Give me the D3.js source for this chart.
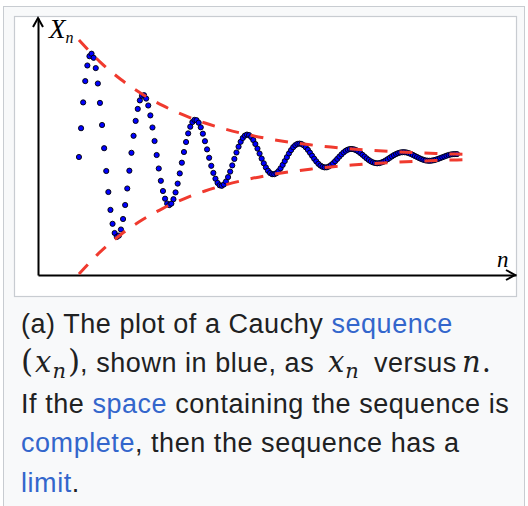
<!DOCTYPE html>
<html>
<head>
<meta charset="utf-8">
<script src="https://cdn.jsdelivr.net/npm/d3@7"></script>
<style>
  html, body { margin: 0; padding: 0; background: #ffffff; }
  svg { display: block; }
</style>
</head>
<body>
<div id="chart"></div>
<script>
// ---------- data ----------
// sequence values x_n (arbitrary units, limit = 0), one per index n
const seqValues = [
  0, 28.8, 54.6, 75.9, 91.5, 100.8, 103.3, 99.2, 88.9, 73.5,
  54.1, 32.0, 8.8, -14.0, -35.0, -52.9, -66.8, -76.0, -79.9, -78.6,
  -72.5, -62.0, -48.0, -31.5, -13.7, 4.2, 21.2, 36.1, 48.1, 56.6,
  61.2, 61.8, 58.4, 51.5, 41.6, 29.5, 16.0, 2.0, -11.5, -23.8,
  -34.0, -41.7, -46.5, -48.1, -46.6, -42.2, -35.4, -26.6, -16.4, -5.7,
  5.0, 15.0, 23.6, 30.3, 34.9, 37.1, 36.8, 34.3, 29.7, 23.3,
  15.8, 7.6, -0.8, -8.8, -15.9, -21.7, -25.9, -28.3, -28.8, -27.5,
  -24.5, -20.1, -14.6, -8.4, -1.9, 4.5, 10.3, 15.2, 19.0, 21.4,
  22.4, 21.9, 20.0, 17.0, 13.0, 8.4, 3.4, -1.6, -6.3, -10.4,
  -13.7, -16.0, -17.2, -17.2, -16.2, -14.2, -11.3, -7.9, -4.1, -0.2,
  3.6, 6.9, 9.8, 11.8, 13.1, 13.4, 13.0, 11.7, 9.7, 7.2,
  4.3, 1.3, -1.7, -4.4, -6.8, -8.6, -9.8, -10.4, -10.3, -9.5,
  -8.1, -6.3, -4.2, -1.9, 0.4, 2.6, 4.6, 6.2, 7.3, 8.0,
  8.0, 7.6, 6.8, 5.5, 3.9, 2.2, 0.4, -1.4, -3.0, -4.4,
  -5.4, -6.0, -6.3, -6.1, -5.5, -4.7, -3.5, -2.2, -0.8, 0.6,
  1.9, 3.0, 3.9, 4.5, 4.8, 4.8, 4.5, 3.9, 3.1, 2.1,
  1.0, 0.0, -1.1, -2.0, -2.8, -3.4, -3.7, -3.8, -3.6, -3.2,
  -2.6, -1.9, -1.1, -0.3, 0.5, 1.3, 2.0, 2.5, 2.8, 2.9,
  2.9
];
// envelope (red dashed bounds) sampled at these indices
const envN   = [0, 10, 20, 30, 40, 50, 60, 70, 80, 90, 100, 110, 120, 130, 140, 150, 160, 170, 180, 188];
const envAmp = [117.0, 95.2, 77.5, 63.1, 51.3, 41.8, 34.0, 27.7, 22.5, 18.3, 14.9, 12.2, 9.9, 8.1, 6.6, 5.3, 4.3, 3.5, 2.9, 2.4];
const limitValue = 0;
// axis labels
const yLabel = "X";
const yLabelSub = "n";
const xLabel = "n";
// axis extents (data units)
const nDomain = [-19.5, 208.1];
const vDomain = [-118, 139];

// ---------- drawing ----------
const W = 528, H = 506;
const svg = d3.select("#chart").append("svg").attr("width", W).attr("height", H);

// frames
svg.append("rect").attr("x", 3.5).attr("y", 6.5).attr("width", 521).attr("height", 520)
  .attr("fill", "#f8f9fa").attr("stroke", "#c8ccd1").attr("stroke-width", 1);
svg.append("rect").attr("x", 14.5).attr("y", 16.5).attr("width", 502).attr("height", 280)
  .attr("fill", "#ffffff").attr("stroke", "#c8ccd1").attr("stroke-width", 1.2);

const x = d3.scaleLinear().domain(nDomain).range([38, 516]);
const y = d3.scaleLinear().domain(vDomain).range([275, 18]);

const seq = seqValues.map((v, i) => ({ n: i, v: v }));

// axes (no ticks)
const gy = svg.append("g").attr("transform", `translate(${x(nDomain[0])},0)`)
  .call(d3.axisLeft(y).tickValues([]).tickSizeOuter(0));
const gx = svg.append("g").attr("transform", `translate(0,${y(vDomain[0])})`)
  .call(d3.axisBottom(x).tickValues([]).tickSizeOuter(0));
[gx, gy].forEach(g => g.select(".domain").attr("stroke", "#000").attr("stroke-width", 2));

// arrow heads
const x0 = x(nDomain[0]), yTop = y(vDomain[1]), yBot = y(vDomain[0]), xRight = x(nDomain[1]) - 1;
svg.append("path")
  .attr("d", `M${x0 - 5},${yTop + 9} L${x0},${yTop} L${x0 + 5},${yTop + 9}`)
  .attr("fill", "none").attr("stroke", "#000").attr("stroke-width", 2);
svg.append("path")
  .attr("d", `M${xRight - 9},${yBot - 5} L${xRight},${yBot} L${xRight - 9},${yBot + 5}`)
  .attr("fill", "none").attr("stroke", "#000").attr("stroke-width", 2);

// axis labels
const yl = svg.append("text").attr("x", 49).attr("y", 38)
  .attr("font-family", "'Liberation Serif', 'Times New Roman', serif")
  .attr("font-style", "italic").attr("font-size", 27).attr("fill", "#000");
yl.append("tspan").text(yLabel);
yl.append("tspan").attr("font-size", 16).attr("dy", 5).attr("dx", 0).text(yLabelSub);
svg.append("text").attr("x", 497).attr("y", 267)
  .attr("font-family", "'Liberation Serif', 'Times New Roman', serif")
  .attr("font-style", "italic").attr("font-size", 23).attr("fill", "#000").text(xLabel);

// sequence points
svg.append("g").selectAll("circle").data(seq).join("circle")
  .attr("cx", d => x(d.n)).attr("cy", d => y(d.v)).attr("r", 2.6)
  .attr("fill", "#0000ff").attr("stroke", "#000").attr("stroke-width", 0.9);

// envelopes
const envUpper = envN.map((n, i) => ({ n: n, v: limitValue + envAmp[i] }));
const envLower = envN.map((n, i) => ({ n: n, v: limitValue - envAmp[i] }));
const line = d3.line().x(d => x(d.n)).y(d => y(d.v)).curve(d3.curveMonotoneX);
[envUpper, envLower].forEach(e => {
  svg.append("path").attr("d", line(e))
    .attr("fill", "none").attr("stroke", "#f03a2e").attr("stroke-width", 3)
    .attr("stroke-dasharray", "13,12");
});

// caption
const sans = "'Liberation Sans', Arial, Helvetica, sans-serif";
const mathF = "'DejaVu Serif', serif";
const textCol = "#202122", linkCol = "#3366cc";
const fs = 27, ls = 0.55;
function cap(yPos) {
  return svg.append("text").attr("x", 21).attr("y", yPos)
    .attr("font-family", sans).attr("font-size", fs).attr("letter-spacing", ls).attr("fill", textCol);
}
function seg(parent, xPos, str, opts) {
  const s = parent.append("tspan").text(str);
  if (xPos !== null) s.attr("x", xPos);
  if (opts && opts.math) s.attr("font-family", mathF).attr("letter-spacing", 0);
  if (opts && opts.italic) s.attr("font-style", "italic");
  if (opts && opts.size) s.attr("font-size", opts.size);
  if (opts && opts.dy !== undefined) s.attr("dy", opts.dy);
  if (opts && opts.dx !== undefined) s.attr("dx", opts.dx);
  return s;
}
let t = cap(333);
t.append("tspan").text("(a) The plot of a Cauchy ");
t.append("tspan").attr("fill", linkCol).text("sequence");

t = cap(372);
seg(t, 21, "(", { math: true, size: 31 });
seg(t, null, "x", { math: true, italic: true, size: 29, dx: 2 });
seg(t, null, "n", { math: true, italic: true, size: 21, dy: 6, dx: 1 });
seg(t, null, ")", { math: true, size: 31, dy: -6, dx: 2 });
seg(t, null, ", shown in blue, as", { dx: 0 });
seg(t, 328, "x", { math: true, italic: true, size: 29 });
seg(t, null, "n", { math: true, italic: true, size: 21, dy: 6, dx: 1 });
seg(t, 374, "versus", { dy: -6 });
seg(t, 462, "n", { math: true, italic: true, size: 29 });
seg(t, null, ".", { math: true, size: 29, dx: 1 });

t = cap(413);
t.append("tspan").text("If the ");
t.append("tspan").attr("fill", linkCol).text("space");
t.append("tspan").text(" containing the sequence is");

t = cap(452);
t.append("tspan").attr("fill", linkCol).text("complete");
t.append("tspan").text(", then the sequence has a");

t = cap(492);
t.append("tspan").attr("fill", linkCol).text("limit");
t.append("tspan").text(".");
</script>
</body>
</html>
